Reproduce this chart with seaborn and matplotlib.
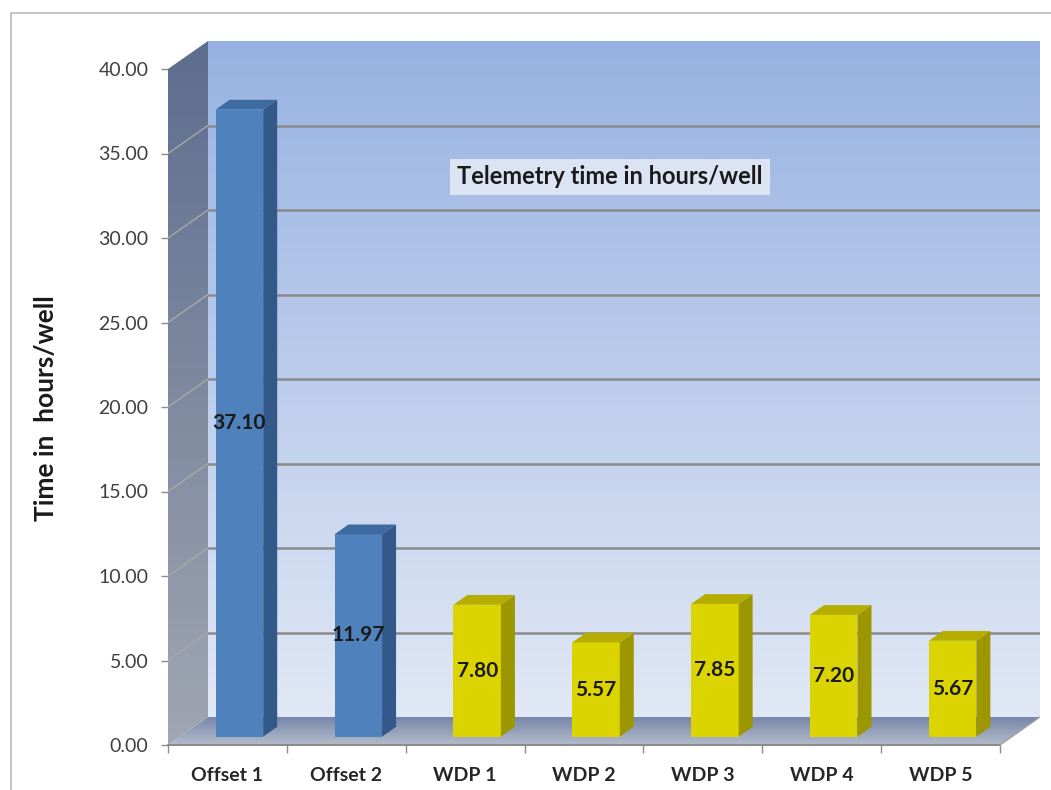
import seaborn as sns
import matplotlib.pyplot as plt
import numpy as np
import pandas as pd
from matplotlib.patches import Polygon, Rectangle
from matplotlib.colors import LinearSegmentedColormap
from matplotlib.transforms import Affine2D

# Données du graphique
categories = ['Offset 1', 'Offset 2', 'WDP 1', 'WDP 2', 'WDP 3', 'WDP 4', 'WDP 5']
hours = [37.10, 11.97, 7.80, 5.57, 7.85, 7.20, 5.67]
groups = ['Offset', 'Offset', 'WDP', 'WDP', 'WDP', 'WDP', 'WDP']
y_ticks = [0, 5, 10, 15, 20, 25, 30, 35, 40]

front_col = {'Offset': '#4f81bd', 'WDP': '#dcd400'}
side_col = {'Offset': '#32598a', 'WDP': '#9c9600'}
top_col = {'Offset': '#3d6a9f', 'WDP': '#b5ae00'}

df = pd.DataFrame({'cat': categories, 'hours': hours, 'group': groups})

sns.set_style('white')
plt.rcParams['font.family'] = ['Lato', 'DejaVu Sans']

W, H = 1051, 790
fig = plt.figure(figsize=(W / 100, H / 100), dpi=100)

# géométrie (pixels) du plan avant et profondeur de la boîte 3D
x_left, x_right = 168, 1000
y_zero, y_top = 745, 69
depth_px = (40, 28)
ymax = y_ticks[-1]
px_cat = (x_right - x_left) / len(categories)
px_val = (y_zero - y_top) / ymax
DX = depth_px[0] / px_cat
DY = depth_px[1] / px_val
xmin, xmax = -0.5, len(categories) - 0.5

ax = fig.add_axes([x_left / W, (H - y_zero) / H,
                   (x_right - x_left + depth_px[0]) / W,
                   (y_zero - y_top + depth_px[1]) / H])


def gradient_fill(pts, c_top, c_bottom, z):
    poly = Polygon(pts, closed=True, facecolor='none', edgecolor='none', zorder=z)
    ax.add_patch(poly)
    cmap = LinearSegmentedColormap.from_list('g', [c_bottom, c_top])
    xs = [p[0] for p in pts]
    ys = [p[1] for p in pts]
    grad = np.linspace(0, 1, 256).reshape(-1, 1)
    im = ax.imshow(grad, cmap=cmap, origin='lower', aspect='auto',
                   extent=[min(xs), max(xs), min(ys), max(ys)],
                   zorder=z, interpolation='bilinear')
    im.set_clip_path(poly)


# parois : fond, côté gauche, sol
gradient_fill([(xmin + DX, DY), (xmax + DX, DY), (xmax + DX, ymax + DY), (xmin + DX, ymax + DY)],
              '#97b2e2', '#e1e8f5', 0.5)
gradient_fill([(xmin, 0), (xmin + DX, DY), (xmin + DX, ymax + DY), (xmin, ymax)],
              '#5d6d8e', '#a0a6b2', 0.6)
gradient_fill([(xmin, 0), (xmax, 0), (xmax + DX, DY), (xmin + DX, DY)],
              '#7787aa', '#b4bccb', 0.7)

# quadrillage sur le fond et sur la paroi gauche
for v in y_ticks[1:-1]:
    ax.plot([xmin + DX, xmax + DX], [v + DY, v + DY], color='#8a8a8a', lw=1.8, zorder=1)
    ax.plot([xmin, xmin + DX], [v, v + DY], color='#a8a8a8', lw=1, zorder=1)

# bord avant du sol
ax.plot([xmin, xmax], [0, 0], color='#8c8c8c', lw=1.5, zorder=3, clip_on=False)
ax.plot([xmax, xmax + DX], [0, DY], color='#a0a0a0', lw=1, zorder=3)

# barres
sns.barplot(data=df, x='cat', y='hours', hue='group', palette=front_col, width=0.4,
            saturation=1, legend=False, dodge=False, errorbar=None, ax=ax, zorder=5,
            linewidth=0, edgecolor='none')

f0, f1 = 0.3, 0.35  # position et épaisseur des barres dans la profondeur
shift = Affine2D().translate(f0 * DX, f0 * DY) + ax.transData
for cont in ax.containers:
    for bar in cont:
        bar.set_transform(shift)
        i = int(round(bar.get_x() + bar.get_width() / 2))
        g = groups[i]
        x0 = bar.get_x() + f0 * DX
        x1 = x0 + bar.get_width()
        yb = f0 * DY
        yt = bar.get_height() + f0 * DY
        ax.add_patch(Polygon([(x1, yb), (x1, yt), (x1 + f1 * DX, yt + f1 * DY), (x1 + f1 * DX, yb + f1 * DY)],
                             facecolor=side_col[g], edgecolor='none', zorder=5))
        ax.add_patch(Polygon([(x0, yt), (x1, yt), (x1 + f1 * DX, yt + f1 * DY), (x0 + f1 * DX, yt + f1 * DY)],
                             facecolor=top_col[g], edgecolor='none', zorder=5))

# valeurs au milieu des barres
for i, h in enumerate(hours):
    ax.text(i + f0 * DX, h / 2 + f0 * DY, f'{h:.2f}', ha='center', va='center',
            fontsize=15, fontweight='bold', color='#1a1a1a', zorder=7)

ax.set_xlim(xmin, xmax + DX)
ax.set_ylim(0, ymax + DY)

# axes
ax.set_yticks(y_ticks)
ax.set_yticklabels([f'{v:.2f}' for v in y_ticks])
ax.tick_params(axis='y', left=True, length=5, width=1, color='#8c8c8c',
               labelsize=14, labelcolor='#404040', pad=9)
ax.set_xticks(range(len(categories)))
ax.set_xticklabels(categories, fontweight='bold')
ax.set_xticks(np.arange(xmin, xmax + 0.01, 1), minor=True)
ax.tick_params(axis='x', which='major', length=0, labelsize=14, labelcolor='#262626', pad=16)
ax.tick_params(axis='x', which='minor', bottom=True, length=6, width=1, color='#8c8c8c')
ax.set_xlabel('')
ax.set_ylabel('')
for s in ax.spines.values():
    s.set_visible(False)

fig.text(46 / W, 1 - 408 / H, 'Time in  hours/well', rotation=90, ha='center', va='center',
         fontsize=19, fontweight='bold', color='#1a1a1a')
fig.text(610 / W, 1 - 177 / H, 'Telemetry time in hours/well', ha='center', va='center',
         fontsize=17, fontweight='bold', color='#1a1a1a',
         bbox=dict(facecolor='#dce4f3', edgecolor='none', pad=5))

# cadre extérieur
fig.add_artist(Rectangle((11 / W, -0.1), 1.2, 1 - 13 / H + 0.1, transform=fig.transFigure,
                         fill=False, edgecolor='#c6c6c6', lw=1.5))

fig.savefig('out.png', dpi=100)
